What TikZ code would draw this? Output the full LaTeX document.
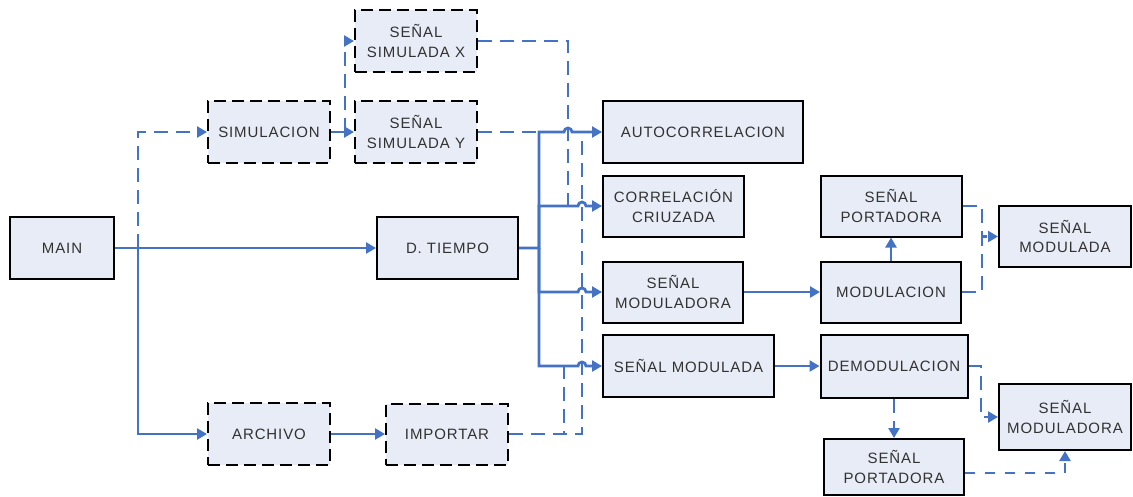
\documentclass[tikz,border=0pt]{standalone}
\usepackage{fontspec}
\newfontfamily\boxfont{Liberation Sans}[LetterSpace=6]
\usetikzlibrary{arrows.meta,calc}
\definecolor{link}{RGB}{68,114,196}
\definecolor{boxfill}{RGB}{231,236,246}
\definecolor{boxtext}{RGB}{50,50,50}

\tikzset{
  blk/.style={draw=black, line width=2pt, fill=boxfill, text=boxtext,
    font=\boxfont\fontsize{15}{19.5}\selectfont, align=center, inner sep=0pt},
  dblk/.style={blk, dash pattern=on 12pt off 6pt},
  wire/.style={draw=link, line width=2.8pt, -{Triangle[length=10pt,width=11pt]}},
  solidwire/.style={wire},
  dashwire/.style={wire, dash pattern=on 14pt off 8pt},
  dotwire/.style={wire, dash pattern=on 10pt off 10pt},
}

\begin{document}
\begin{tikzpicture}[x=1pt,y=-1pt]
\useasboundingbox (0,0) rectangle (1133,496);

% ---- blocks ----
\node[blk,  minimum width=104pt, minimum height=62pt] (main)   at (62,248)    {MAIN};
\node[dblk, minimum width=122pt, minimum height=62pt] (sim)    at (269,132)   {SIMULACION};
\node[dblk, minimum width=122pt, minimum height=62pt] (simx)   at (416,41)    {SEÑAL\\SIMULADA X};
\node[dblk, minimum width=122pt, minimum height=62pt] (simy)   at (416,132)   {SEÑAL\\SIMULADA Y};
\node[blk,  minimum width=141pt, minimum height=62pt] (tiempo) at (447.5,248) {D. TIEMPO};
\node[dblk, minimum width=122pt, minimum height=62pt] (arch)   at (269,434)   {ARCHIVO};
\node[dblk, minimum width=122pt, minimum height=61pt] (imp)    at (447,434)   {IMPORTAR};

\node[blk, minimum width=200pt, minimum height=62pt] (auto) at (703,132)   {AUTOCORRELACION};
\node[blk, minimum width=141pt, minimum height=61pt] (corr) at (673.5,206) {CORRELACIÓN\\CRIUZADA};
\node[blk, minimum width=140pt, minimum height=61pt] (modr) at (673,292)   {SEÑAL\\MODULADORA};
\node[blk, minimum width=171pt, minimum height=62pt] (modd) at (688.5,366) {SEÑAL MODULADA};

\node[blk, minimum width=141pt, minimum height=61pt] (port1) at (891,206)   {SEÑAL\\PORTADORA};
\node[blk, minimum width=140pt, minimum height=61pt] (modul) at (891,292)   {MODULACION};
\node[blk, minimum width=147pt, minimum height=63pt] (demod) at (894,366)   {DEMODULACION};
\node[blk, minimum width=140pt, minimum height=56pt] (port2) at (894,467)   {SEÑAL\\PORTADORA};
\node[blk, minimum width=132pt, minimum height=61pt] (modd2) at (1065,236.5){SEÑAL\\MODULADA};
\node[blk, minimum width=132pt, minimum height=66pt] (modr2) at (1065,417)  {SEÑAL\\MODULADORA};

% ---- from MAIN ----
\coordinate (mj) at ($(main.east)+(23,0)$);
\draw[solidwire] (main.east) -- (tiempo.west);
\draw[dashwire] (mj) |- (sim.west);
\draw[solidwire] (mj) |- (arch.west);

% ---- simulation branch ----
\draw[dashwire] (sim.east) -- (simy.west);
\draw[dashwire] ($(sim.east)+(14,0)$) |- (simx.west);
\draw[dashwire,-] (simx.east) -| ($(corr.west)+(-34,0)$);
\draw[dashwire,-] (simy.east) -- ($(auto.west)+(-65,0)$);

% ---- file branch ----
\draw[solidwire] (arch.east) -- (imp.west);
\draw[dashwire,-] (imp.east) -| ($(auto.west)+(-20,0)$);
\draw[dashwire,-] (imp.east) -| ($(modd.west)+(-38,0)$);

% ---- from D. TIEMPO (with hops over the crossing lines) ----
\coordinate (tj) at ($(tiempo.east)+(20,0)$);
\draw[solidwire] (tiempo.east) -- (tj) |- ($(auto.west)+(-38,0)$)
  arc[start angle=180,end angle=0,radius=4pt] -- (auto.west);
\draw[solidwire] (tj) |- ($(corr.west)+(-24,0)$)
  arc[start angle=180,end angle=0,radius=4pt] -- (corr.west);
\draw[solidwire] (tj) |- ($(modr.west)+(-24,0)$)
  arc[start angle=180,end angle=0,radius=4pt] -- (modr.west);
\draw[solidwire] (tj) |- ($(modd.west)+(-24,0)$)
  arc[start angle=180,end angle=0,radius=4pt] -- (modd.west);

% ---- modulation ----
\draw[solidwire] (modr.east) -- (modul.west);
\draw[solidwire] (modul.north) -- (port1.south);
\draw[dashwire] (modul.east) -| ($(modd2.west)+(-16,0)$) -- (modd2.west);
\draw[dashwire,-] (port1.east) -| ($(modd2.west)+(-16,0)$);

% ---- demodulation ----
\draw[solidwire] (modd.east) -- (demod.west);
\draw[dashwire] (demod.south) -- (port2.north);
\draw[dashwire] (demod.east) -| ($(modr2.west)+(-17,0)$) -- (modr2.west);
\draw[dotwire] ([yshift=-6pt]port2.east) -| (modr2.south);
\end{tikzpicture}
\end{document}
